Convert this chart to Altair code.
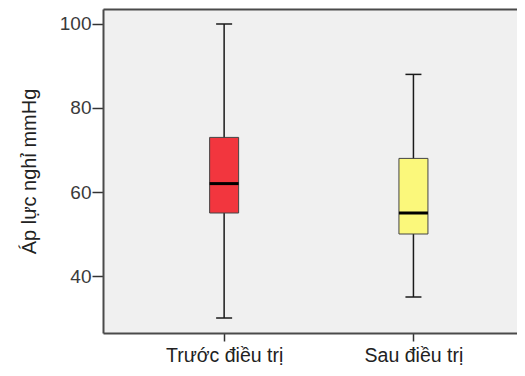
import altair as alt
import pandas as pd

categories = ["Trước điều trị", "Sau điều trị"]
low = [30, 35]
q1 = [55, 50]
median = [62, 55]
q3 = [73, 68]
high = [100, 88]
fills = ["#F2363E", "#FBF87B"]

df = pd.DataFrame({
    "cat": categories,
    "pos": list(range(1, len(categories) + 1)),
    "low": low, "q1": q1, "median": median, "q3": q3, "high": high,
    "fill": fills,
})

FONT = "Liberation Sans"
xscale = alt.Scale(domain=[0.3866, 2.5206], nice=False, zero=False)
yscale = alt.Scale(domain=[26.43, 103.57], nice=False, zero=False)
yaxis = alt.Axis(
    title="Áp lực nghỉ mmHg", values=[40, 60, 80, 100], grid=False,
    tickSize=11, tickColor="#333333", tickWidth=1.5,
    domainColor="#4a4a4a", domainWidth=2,
    labelFont=FONT, labelFontSize=19, labelColor="#3a3a3a", labelPadding=1,
    titleFont=FONT, titleFontSize=20, titleFontWeight="normal",
    titleColor="#222222", titlePadding=20,
)
label_expr = "datum.value == 1 ? '%s' : '%s'" % (categories[0], categories[1])
xaxis_bottom = alt.Axis(
    values=[1, 2], labelExpr=label_expr, title=None, grid=False,
    tickSize=8, tickColor="#333333", tickWidth=1.5,
    domainColor="#4a4a4a", domainWidth=2,
    labelFont=FONT, labelFontSize=19.5, labelColor="#222222", labelPadding=5,
)
xaxis_top = alt.Axis(
    orient="top", labels=False, ticks=False, title=None, grid=False,
    domainColor="#4a4a4a", domainWidth=2,
)

base = alt.Chart(df)

whiskers = base.mark_rule(color="#1a1a1a", strokeWidth=1.5).encode(
    x=alt.X("pos:Q", scale=xscale, axis=xaxis_bottom),
    y=alt.Y("low:Q", scale=yscale, axis=yaxis),
    y2="high:Q",
)

caps = base.transform_fold(["low", "high"], as_=["k", "v"]).mark_tick(
    orient="horizontal", size=16, thickness=1.5, color="#1a1a1a", opacity=1
).encode(
    x=alt.X("pos:Q", scale=xscale, axis=xaxis_top),
    y=alt.Y("v:Q", scale=yscale, axis=yaxis),
)

boxes = base.mark_bar(size=29, stroke="#444444", strokeWidth=1).encode(
    x=alt.X("pos:Q", scale=xscale, axis=None),
    y=alt.Y("q1:Q", scale=yscale, axis=yaxis),
    y2="q3:Q",
    fill=alt.Fill("fill:N", scale=None),
)

medians = base.mark_tick(
    orient="horizontal", size=29, thickness=3, color="#000000", opacity=1
).encode(
    x=alt.X("pos:Q", scale=xscale, axis=None),
    y=alt.Y("median:Q", scale=yscale, axis=yaxis),
)

chart = alt.layer(whiskers, caps, boxes, medians).resolve_axis(
    x="independent"
).properties(
    width=414, height=324,
    padding={"left": 95, "top": 1, "right": 0, "bottom": 34},
    autosize=alt.AutoSizeParams(type="none"),
).configure_view(
    stroke=None, fill="#F0F0F0"
)

chart.save("out.html", embed_options={"renderer": "svg", "actions": False})
